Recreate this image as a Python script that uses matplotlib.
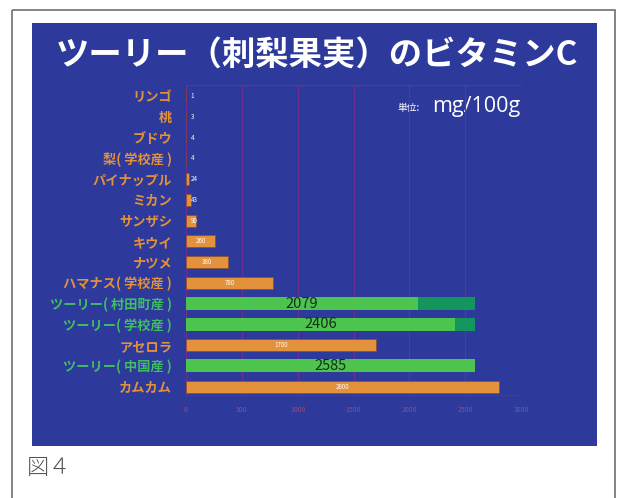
import numpy as np
import matplotlib.pyplot as plt
from matplotlib.patches import Rectangle

plt.rcParams['font.family'] = ['Noto Sans CJK JP', 'DejaVu Sans']

# ビタミンC含有量 (mg/100g)
foods = ['リンゴ', '桃', 'ブドウ', '梨( 学校産 )', 'パイナップル', 'ミカン', 'サンザシ',
         'キウイ', 'ナツメ', 'ハマナス( 学校産 )', 'ツーリー( 村田町産 )', 'ツーリー( 学校産 )',
         'アセロラ', 'ツーリー( 中国産 )', 'カムカム']
vitc = [1, 3, 4, 4, 24, 43, 90, 260, 380, 780, 2079, 2406, 1700, 2585, 2800]
is_tsuri = [False] * 10 + [True, True, False, True, False]
tsuri_max = 2585
xticks = [0, 500, 1000, 1500, 2000, 2500, 3000]

W, H = 619, 498
fig = plt.figure(figsize=(W / 100, H / 100), dpi=100)
fig.patch.set_facecolor('white')

# 背景 (枠と青いスライド)
bg = fig.add_axes([0, 0, 1, 1])
bg.set_xlim(0, W)
bg.set_ylim(H, 0)
bg.axis('off')
bg.add_patch(Rectangle((12, 10), 603, 520, fill=False, ec='#707070', lw=1.2))
bg.add_patch(Rectangle((32, 23), 565, 423, fc='#2d3a9c', ec='none'))
bg.text(317, 55, 'ツーリー（刺梨果実）のビタミンC', color='white', fontsize=24,
        fontweight='bold', ha='center', va='center')
bg.text(397, 108, '単位:', color='white', fontsize=7, ha='left', va='center')
bg.text(432, 106, 'mg/100g', color='white', fontsize=15.5, ha='left', va='center',
        family=['Open Sans', 'DejaVu Sans'])
bg.text(27, 468, '図４', color='#555555', fontsize=16, fontweight='light',
        ha='left', va='center')

orange = '#e3913a'
light_green = '#4cc44e'
dark_green = '#14955e'
grid_col = '#6e2f8e'

ax = fig.add_axes([186 / W, 1 - 395 / H, (521 - 186) / W, (395 - 85) / H])
ax.set_facecolor('none')
y = np.arange(len(foods))

for i, (v, t) in enumerate(zip(vitc, is_tsuri)):
    if t:
        ax.barh(i, tsuri_max, height=0.62, color=dark_green, zorder=2)
        ax.barh(i, v, height=0.62, color=light_green, zorder=3)
        ax.text(v / 2, i, str(v), color='#15301a', fontsize=10.5,
                ha='center', va='center', zorder=4)
    else:
        ax.barh(i, v, height=0.58, color=orange, ec='#8a4a20', lw=0.4, zorder=3)
        if v >= 200:
            ax.text(v / 2, i, str(v), color='white', fontsize=4.5,
                    ha='center', va='center', zorder=4)
        else:
            ax.text(40, i, str(v), color='white', fontsize=4.5,
                    ha='left', va='center', zorder=4)

ax.set_xlim(0, 3000)
ax.set_ylim(14.4, -0.53)
ax.set_xticks(xticks)
ax.set_xticklabels([str(v) for v in xticks], color='#9a4a7a', fontsize=5)
ax.set_yticks(y)
ax.set_yticklabels(foods, fontsize=9.5, fontweight='bold')
for lab, t in zip(ax.get_yticklabels(), is_tsuri):
    lab.set_color('#3fbf62' if t else orange)
ax.tick_params(axis='y', length=0, pad=10)
ax.tick_params(axis='x', length=0, pad=8)
ax.grid(axis='x', color=grid_col, lw=0.8, zorder=1)
for side in ['left', 'right']:
    ax.spines[side].set_visible(False)
ax.spines['top'].set_color(grid_col)
ax.spines['bottom'].set_color('#7a2a5a')

fig.savefig('out.png', dpi=100)
